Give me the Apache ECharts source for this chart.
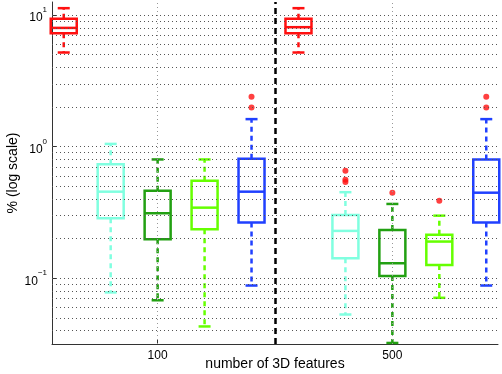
<!DOCTYPE html>
<html>
<head>
<meta charset="utf-8">
<script src="https://cdn.jsdelivr.net/npm/echarts@6/dist/echarts.min.js"></script>
<style>
  html, body { margin: 0; padding: 0; background: #fff; }
  #chart { width: 502px; height: 374px; }
</style>
</head>
<body>
<div id="chart"></div>
<script>
// Box positions on the x axis (1..5 = 100 features, 6..10 = 500 features)
const positions = [1, 2, 3, 4, 5, 6, 7, 8, 9, 10];
const boxColors = ['#ff1010', '#80ffe0', '#22a012', '#66ff00', '#2040ff',
                   '#ff1010', '#80ffe0', '#22a012', '#66ff00', '#2040ff'];

// Box statistics (% values)
const lowerWhisker = [5.2, 0.078, 0.068, 0.043, 0.088, 5.2, 0.053, 0.0322, 0.071, 0.088];
const lowerQuartile = [7.3, 0.286, 0.198, 0.236, 0.265, 7.3, 0.142, 0.104, 0.126, 0.265];
const medians = [8.0, 0.455, 0.312, 0.344, 0.455, 8.1, 0.229, 0.130, 0.190, 0.447];
const upperQuartile = [9.4, 0.735, 0.463, 0.552, 0.81, 9.4, 0.303, 0.233, 0.214, 0.80];
const upperWhisker = [11.3, 1.05, 0.80, 0.80, 1.62, 11.3, 0.451, 0.367, 0.299, 1.62];

// Outliers: [position, value]
const outlierX = [5, 5, 7, 7, 7, 8, 9, 10, 10];
const outlierY = [2.40, 1.99, 0.657, 0.56, 0.54, 0.447, 0.389, 2.40, 1.99];

// Axis ticks
const groupTicks = [3, 8];
const groupLabels = ['100', '500'];
const yTicks = [0.1, 1, 10];
const yMinorGrid = [0.04, 0.05, 0.06, 0.07, 0.08, 0.09, 0.1,
                    0.2, 0.3, 0.4, 0.5, 0.6, 0.7, 0.8, 0.9, 1,
                    2, 3, 4, 5, 6, 7, 8, 9, 10];
const groupDivider = 5.5;

const boxData = positions.map((p, i) => [p, lowerWhisker[i], lowerQuartile[i], medians[i], upperQuartile[i], upperWhisker[i]]);
const outlierData = outlierX.map((x, i) => [x, outlierY[i]]);

const chart = echarts.init(document.getElementById('chart'));

function renderBox(params, api) {
  const x = api.value(0);
  const color = boxColors[params.dataIndex];
  const low = api.coord([x, api.value(1)]);
  const q1 = api.coord([x, api.value(2)]);
  const med = api.coord([x, api.value(3)]);
  const q3 = api.coord([x, api.value(4)]);
  const high = api.coord([x, api.value(5)]);
  const halfW = 13;
  const capW = 6;
  const cx = low[0];
  const solid = { stroke: color, lineWidth: 2.5, fill: null };
  const dashed = { stroke: color, lineWidth: 2.5, lineDash: [5, 4], fill: null };
  return {
    type: 'group',
    children: [
      { type: 'line', shape: { x1: cx, y1: q3[1], x2: cx, y2: high[1] }, style: dashed },
      { type: 'line', shape: { x1: cx, y1: q1[1], x2: cx, y2: low[1] }, style: dashed },
      { type: 'line', shape: { x1: cx - capW, y1: high[1], x2: cx + capW, y2: high[1] }, style: solid },
      { type: 'line', shape: { x1: cx - capW, y1: low[1], x2: cx + capW, y2: low[1] }, style: solid },
      { type: 'rect', shape: { x: cx - halfW, y: q3[1], width: halfW * 2, height: q1[1] - q3[1] }, style: solid },
      { type: 'line', shape: { x1: cx - halfW, y1: med[1], x2: cx + halfW, y2: med[1] }, style: solid }
    ]
  };
}

const option = {
  animation: false,
  textStyle: { fontFamily: 'Liberation Sans, Arial, sans-serif' },
  grid: { left: 52, right: 4, top: 2, bottom: 30, outerBoundsMode: 'none', containLabel: false },
  xAxis: {
    type: 'value',
    min: 0.75,
    max: 10.25,
    name: 'number of 3D features',
    nameLocation: 'middle',
    nameGap: 13,
    nameMoveOverlap: false,
    nameTextStyle: { fontSize: 14, color: '#000' },
    axisLine: { lineStyle: { color: '#333', width: 1 } },
    axisTick: { inside: true, length: 5, customValues: groupTicks, lineStyle: { color: '#333' } },
    axisLabel: {
      customValues: groupTicks,
      fontSize: 12,
      color: '#000',
      margin: 6,
      formatter: v => groupLabels[groupTicks.indexOf(v)] || ''
    },
    splitLine: { show: false }
  },
  yAxis: {
    type: 'log',
    logBase: 10,
    min: 0.0316228,
    max: 12.589,
    name: '% (log scale)',
    nameLocation: 'middle',
    nameRotate: 90,
    nameGap: 32,
    nameMoveOverlap: false,
    nameTextStyle: { fontSize: 14, color: '#000' },
    axisLine: { show: true, lineStyle: { color: '#333', width: 1 } },
    axisTick: { inside: true, length: 5, customValues: yTicks, lineStyle: { color: '#333' } },
    axisLabel: {
      customValues: yTicks,
      margin: 5,
      color: '#000',
      formatter: v => {
        const e = Math.round(Math.log10(v));
        return '{b|10}{s|' + String(e).replace('-', '\u2212') + '}';
      },
      rich: {
        b: { fontSize: 12, lineHeight: 18, verticalAlign: 'bottom', color: '#000' },
        s: { fontSize: 8, lineHeight: 8, verticalAlign: 'top', color: '#000' }
      }
    },
    splitLine: { show: false }
  },
  series: [
    {
      type: 'scatter',
      data: [],
      z: 1,
      silent: true,
      markLine: {
        silent: true,
        symbol: 'none',
        label: { show: false },
        lineStyle: { color: '#555', width: 1, type: [1, 3] },
        data: yMinorGrid.map(v => ({ yAxis: v }))
          .concat(groupTicks.map(v => ({ xAxis: v, lineStyle: { color: '#999', type: [1, 3] } })))
          .concat([{ xAxis: groupDivider, lineStyle: { color: '#000', width: 2.5, type: [6, 4] } }])
      }
    },
    {
      type: 'custom',
      z: 2,
      renderItem: renderBox,
      encode: { x: 0, y: [1, 2, 3, 4, 5] },
      data: boxData
    },
    {
      type: 'scatter',
      z: 3,
      symbol: 'circle',
      symbolSize: 6,
      itemStyle: { color: '#ff1010' },
      data: outlierData
    }
  ]
};

chart.setOption(option);
</script>
</body>
</html>
